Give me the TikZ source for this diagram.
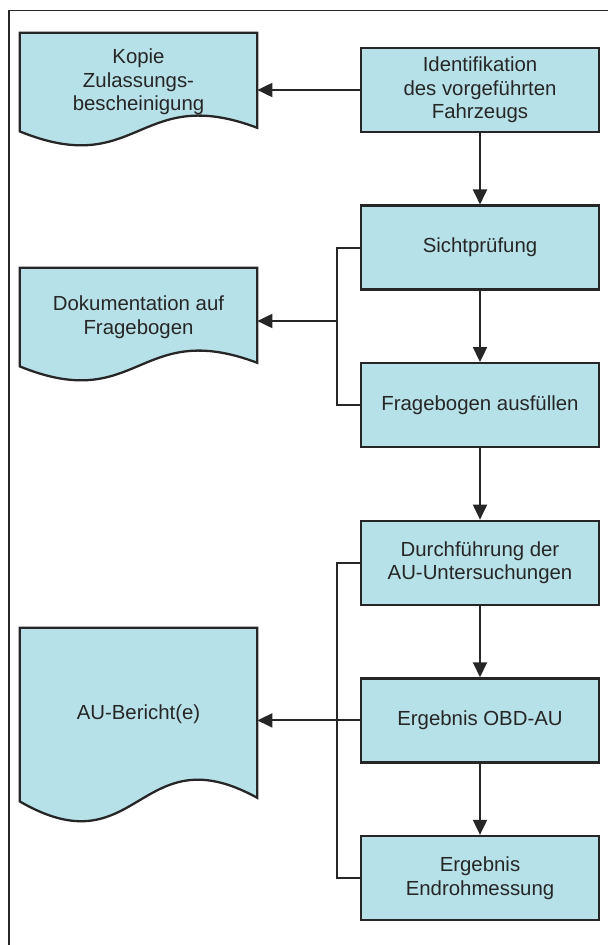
\documentclass[tikz,border=0pt]{standalone}
\usepackage{fontspec}
\setmainfont{Liberation Sans}
\usetikzlibrary{arrows.meta,backgrounds}
\definecolor{boxblau}{RGB}{183,225,232}
\definecolor{rand}{RGB}{38,38,38}
\tikzset{
  schritt/.style={draw=rand, line width=1.3pt, fill=boxblau, minimum width=4.76cm,
    minimum height=1.68cm, inner sep=0pt, align=center, text=rand,
    font=\fontsize{11.6}{13.4}\selectfont},
  beleg/.style={minimum width=4.74cm, inner sep=0pt, align=center, text=rand,
    font=\fontsize{11.6}{13.4}\selectfont},
  pfeil/.style={draw=rand, line width=1.1pt, -{Triangle[length=0.3cm,width=0.28cm]}},
  linie/.style={draw=rand, line width=1.1pt},
}
% Beleg mit welliger Unterkante
\newcommand{\belegform}[2]{%
  \filldraw[fill=boxblau, draw=rand, line width=1.3pt]
    (#1.north west) -- (#1.north east) -- ([yshift=0.07cm]#1.south east)
    .. controls ([yshift=#2]#1.south) and ([yshift=-#2]#1.south) .. (#1.south west) -- cycle;}
\begin{document}
\begin{tikzpicture}
  \useasboundingbox (0,0) rectangle (12.16,-18.9);
  \draw[rand, line width=0.8pt] (0.18,-18.9) -- (0.18,-0.21) -- (12.16,-0.21);

  % Ablauf
  \node[schritt] (ident) at (9.6,-1.8) {Identifikation\\des vorgeführten\\Fahrzeugs};
  \node[schritt] (sicht) at (9.6,-4.952) {Sichtprüfung};
  \node[schritt] (frage) at (9.6,-8.104) {Fragebogen ausfüllen};
  \node[schritt] (durch) at (9.6,-11.256) {Durchführung der\\AU-Untersuchungen};
  \node[schritt] (obd) at (9.6,-14.408) {Ergebnis OBD-AU};
  \node[schritt] (endrohr) at (9.6,-17.56) {Ergebnis\\Endrohmessung};

  % Belege
  \node[beleg, minimum height=1.96cm] (kopie) at (2.77,-1.64) {Kopie\\Zulassungs-\\bescheinigung};
  \node[beleg, minimum height=1.96cm] (doku) at (2.77,-6.34) {Dokumentation auf\\Fragebogen};
  \node[beleg, minimum height=3.46cm] (bericht) at (2.77,-14.29) {AU-Bericht(e)};
  \begin{scope}[on background layer]
    \belegform{kopie}{0.97cm}
    \belegform{doku}{0.97cm}
    \belegform{bericht}{1.38cm}
  \end{scope}

  \draw[pfeil] (ident) -- (sicht);
  \draw[pfeil] (sicht) -- (frage);
  \draw[pfeil] (frage) -- (durch);
  \draw[pfeil] (durch) -- (obd);
  \draw[pfeil] (obd) -- (endrohr);

  \draw[pfeil] (ident.west) -- (ident.west -| kopie.east);
  \draw[linie] (sicht.west) -- ++(-0.46,0) |- (frage.west);
  \coordinate (abzweig) at (6.76,-6.42);
  \draw[pfeil] (abzweig) -- (abzweig -| doku.east);
  \draw[linie] (durch.west) -- ++(-0.46,0) |- (endrohr.west);
  \draw[pfeil] (obd.west) -- (obd.west -| bericht.east);
\end{tikzpicture}
\end{document}
